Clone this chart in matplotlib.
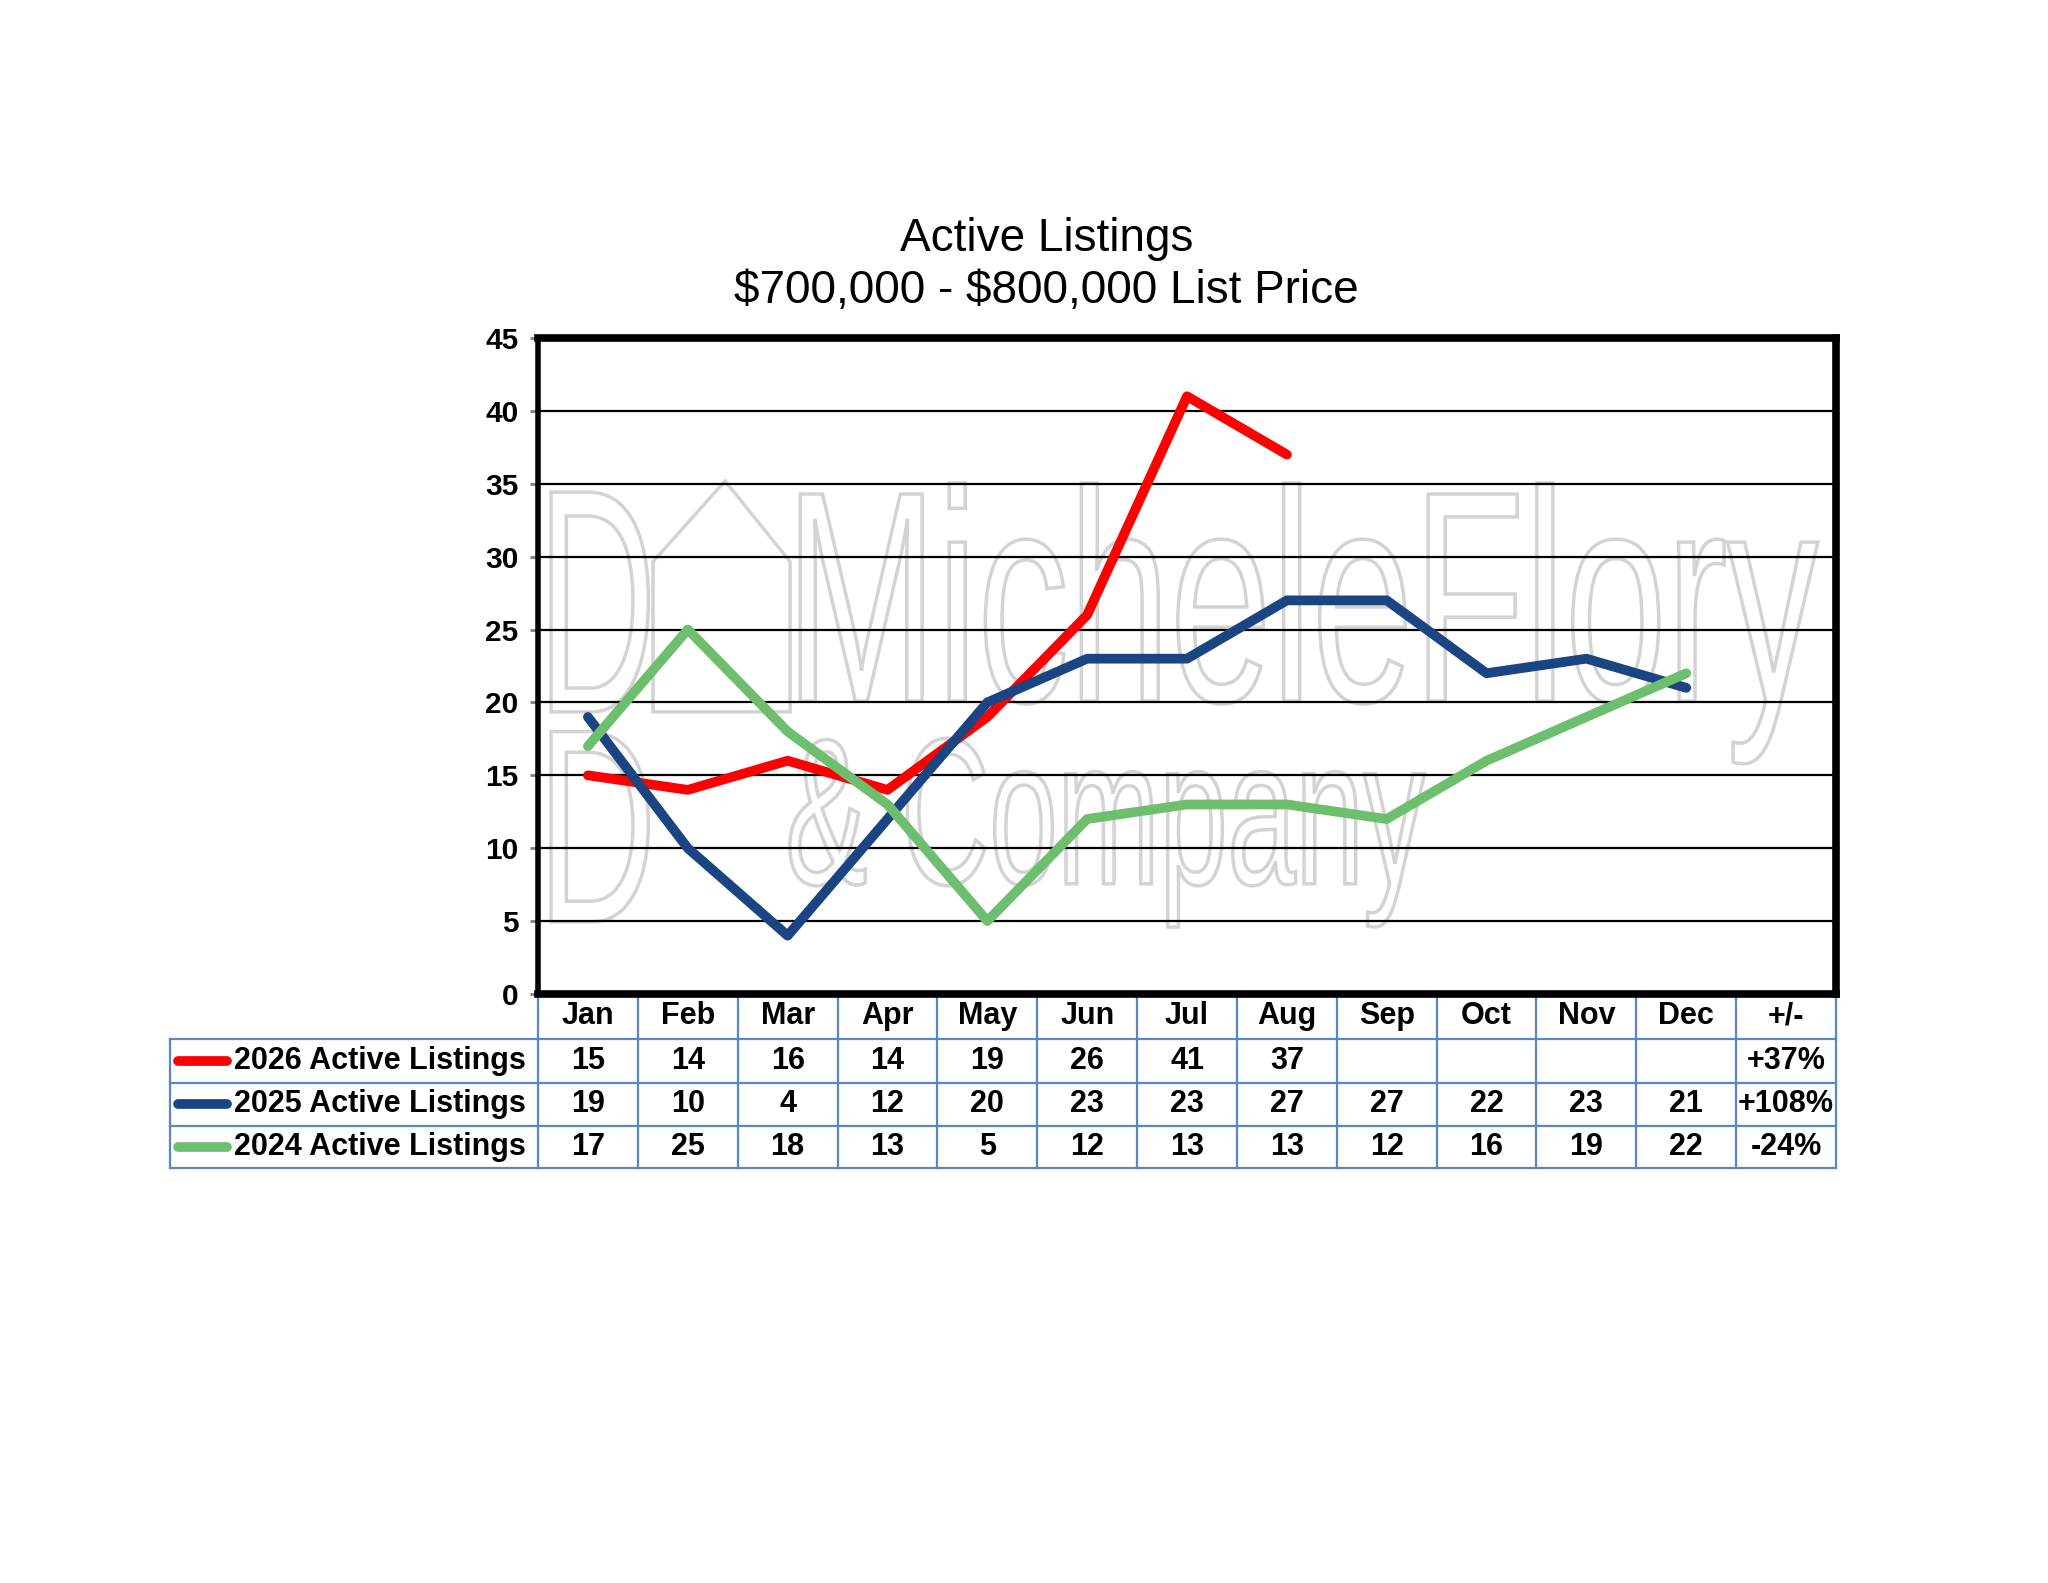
import matplotlib
matplotlib.use("Agg")
import matplotlib.pyplot as plt
import matplotlib.transforms as mtransforms
from matplotlib.textpath import TextPath
from matplotlib.patches import PathPatch, Polygon
from matplotlib.font_manager import FontProperties
import numpy as np

plt.rcParams['font.family'] = ['Liberation Sans', 'DejaVu Sans']

# data
months = ['Jan', 'Feb', 'Mar', 'Apr', 'May', 'Jun', 'Jul', 'Aug', 'Sep', 'Oct', 'Nov', 'Dec']
listings_2026 = [15, 14, 16, 14, 19, 26, 41, 37]
listings_2025 = [19, 10, 4, 12, 20, 23, 23, 27, 27, 22, 23, 21]
listings_2024 = [17, 25, 18, 13, 5, 12, 13, 13, 12, 16, 19, 22]
series_labels = ['2026 Active Listings', '2025 Active Listings', '2024 Active Listings']
changes = ['+37%', '+108%', '-24%']
colors = ['#ff0000', '#1b4482', '#6dbf6f']
y_ticks = list(range(0, 50, 5))

TABLE_BLUE = '#5a86c3'
LINE_W = 7


def add_outline_text(ax, s, box, color='#d3d3d3'):
    """Hollow watermark text stretched into a box given in axes fraction."""
    tp = TextPath((0, 0), s, size=100, prop=FontProperties(family='Liberation Sans'))
    ext = tp.get_extents()
    x0, x1, y0, y1 = box
    tr = (mtransforms.Affine2D()
          .translate(-ext.x0, -ext.y0)
          .scale((x1 - x0) / ext.width, (y1 - y0) / ext.height)
          .translate(x0, y0))
    ax.add_patch(PathPatch(tr.transform_path(tp), transform=ax.transAxes,
                           fc='none', ec=color, lw=2.5, zorder=0.5))


fig = plt.figure(figsize=(20.48, 15.83), dpi=100)
ax = fig.add_axes([0.2627, 0.3721, 0.6338, 0.4144])

# watermark
add_outline_text(ax, 'MicheleFlory', (0.202, 0.986, 0.351, 0.779))
add_outline_text(ax, '& Company', (0.194, 0.683, 0.102, 0.39))
add_outline_text(ax, 'D', (0.010, 0.085, 0.43, 0.765))
add_outline_text(ax, 'D', (0.010, 0.085, 0.11, 0.40))
house = Polygon([(0.0886, 0.43), (0.0886, 0.659), (0.1441, 0.782), (0.1942, 0.659), (0.1942, 0.43)],
                closed=True, fc='none', ec='#d3d3d3', lw=2.5, transform=ax.transAxes, zorder=0.5)
ax.add_patch(house)

x = np.arange(len(months))
all_series = [listings_2026, listings_2025, listings_2024]
for i, vals in enumerate(all_series):
    ax.plot(x[:len(vals)], vals, color=colors[i], lw=LINE_W, solid_capstyle='round',
            solid_joinstyle='round', zorder=3 + i)

ax.set_xlim(-0.5, len(months) + 0.5)
ax.set_ylim(0, 45)
ax.set_yticks(y_ticks)
ax.set_yticklabels([str(t) for t in y_ticks], fontsize=21.5, fontweight='bold')
ax.tick_params(axis='y', length=6, width=2, color='#808080', pad=8)
ax.set_xticks([])
for yv in y_ticks[1:-1]:
    ax.axhline(yv, color='black', lw=1.6, zorder=1)
for side in ['top', 'right', 'bottom', 'left']:
    ax.spines[side].set_linewidth(5.5)
    ax.spines[side].set_color('black')
    ax.spines[side].set_zorder(6)
ax.spines['left'].set_linewidth(4)

# data table under the plot: x in data units, y in axes fraction
trans = mtransforms.blended_transform_factory(ax.transData, ax.transAxes)
n_cols = len(months) + 1
label_left = -0.5 - 3.686
row_edges = [0.0, -0.0686, -0.1357, -0.2012, -0.2652]

ax.plot([-0.5, n_cols - 0.5], [row_edges[0]] * 2, color=TABLE_BLUE, lw=1.6,
        transform=trans, clip_on=False)
for yv in row_edges[1:]:
    ax.plot([label_left, n_cols - 0.5], [yv, yv], color=TABLE_BLUE, lw=1.6,
            transform=trans, clip_on=False)
for c in range(n_cols + 1):
    ax.plot([c - 0.5, c - 0.5], [row_edges[0], row_edges[-1]], color=TABLE_BLUE, lw=1.6,
            transform=trans, clip_on=False)
ax.plot([label_left, label_left], [row_edges[1], row_edges[-1]], color=TABLE_BLUE, lw=1.6,
        transform=trans, clip_on=False)

header = months + ['+/-']
hy = (row_edges[0] + row_edges[1]) / 2
for c, lab in enumerate(header):
    ax.text(c, hy, lab, transform=trans, ha='center', va='center',
            fontsize=22, fontweight='bold')

for r, vals in enumerate(all_series):
    yc = (row_edges[r + 1] + row_edges[r + 2]) / 2
    ax.plot([label_left + 0.08, label_left + 0.57], [yc, yc], color=colors[r], lw=LINE_W,
            solid_capstyle='round', transform=trans, clip_on=False)
    ax.text(label_left + 0.64, yc, series_labels[r], transform=trans, ha='left', va='center',
            fontsize=22, fontweight='bold')
    for c, v in enumerate(vals):
        ax.text(c, yc, str(v), transform=trans, ha='center', va='center',
                fontsize=22, fontweight='bold')
    ax.text(len(months), yc, changes[r], transform=trans, ha='center', va='center',
            fontsize=22, fontweight='bold')

fig.text(0.511, 0.8325, 'Active Listings\n\\$700,000 - \\$800,000 List Price', ha='center', va='center',
         fontsize=33, linespacing=1.22)

fig.savefig('out.png', dpi=100)
